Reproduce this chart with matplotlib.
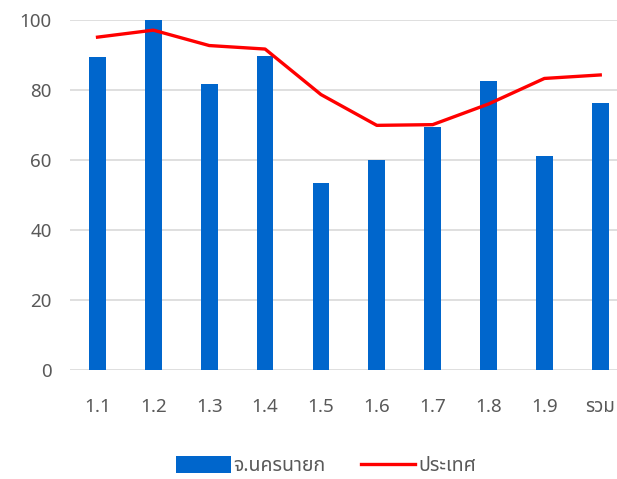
import matplotlib
matplotlib.use('Agg')
import matplotlib.pyplot as plt
from matplotlib.patches import Patch
from matplotlib.lines import Line2D
import numpy as np

categories = ['1.1', '1.2', '1.3', '1.4', '1.5', '1.6', '1.7', '1.8', '1.9', 'รวม']
province_values = [89.4, 100.0, 81.7, 89.7, 53.4, 60.0, 69.4, 82.7, 61.1, 76.4]
country_values = [95.1, 97.1, 92.7, 91.7, 78.7, 69.9, 70.1, 76.0, 83.3, 84.3]
series_names = ['จ.นครนายก', 'ประเทศ']
y_ticks = [0, 20, 40, 60, 80, 100]

plt.rcParams['font.family'] = ['Noto Sans Thai', 'Loma', 'Garuda', 'Tlwg Typo', 'DejaVu Sans']

W, H = 617, 479
fig = plt.figure(figsize=(W / 100, H / 100), dpi=100)
ax = fig.add_axes([69.6 / W, (H - 370) / H, (W - 69.6) / W, 350 / H])

x = np.arange(len(categories))
ax.bar(x, province_values, width=0.3, color='#0066CC', zorder=2)
ax.plot(x, country_values, color='#FF0000', linewidth=2.4, zorder=3)

ax.set_xlim(-0.5, 9.3)
ax.set_ylim(0, 100)
ax.set_yticks(y_ticks)
ax.set_xticks(x)
ax.set_xticklabels(categories)
ax.yaxis.grid(True, color='#d9d9d9', linewidth=1.2, zorder=0)
ax.set_axisbelow(True)
for side in ['top', 'right', 'left', 'bottom']:
    ax.spines[side].set_visible(False)
ax.tick_params(axis='both', length=0, labelsize=13.5, colors='#595959')
ax.tick_params(axis='x', pad=20)
ax.tick_params(axis='y', pad=13)

handles = [Patch(facecolor='#0066CC', edgecolor='none'),
           Line2D([0], [0], color='#FF0000', linewidth=2.4)]
fig.legend(handles, series_names, loc='center', bbox_to_anchor=(326 / W, (H - 466) / H),
           ncol=2, frameon=False, fontsize=14, labelcolor='#595959',
           handlelength=2.8, handleheight=1.0, handletextpad=0.15, columnspacing=1.8)

fig.savefig('out.png', dpi=100)
